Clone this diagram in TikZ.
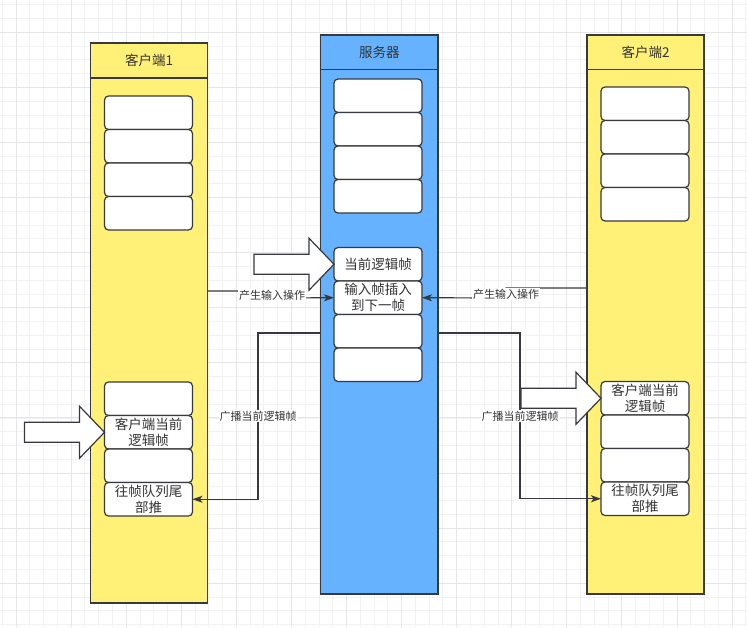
\documentclass[tikz,border=0pt]{standalone}
\usepackage{fontspec}
\newfontfamily\cjk{Noto Sans CJK SC}
\usepackage{tikz}
\usetikzlibrary{positioning, arrows.meta}

\definecolor{laneyellow}{HTML}{FFF077}
\definecolor{laneblue}{HTML}{66B2FF}
\definecolor{edgec}{HTML}{36393D}
\definecolor{textc}{HTML}{333333}
\definecolor{gridminor}{HTML}{F2F2F2}
\definecolor{gridmajor}{HTML}{E6E6E6}

\tikzset{
    lanehead/.style={draw=edgec, line width=1.5pt, minimum width=117pt, minimum height=35pt,
        anchor=north, outer sep=0pt, text=textc, font=\cjk\fontsize{13.5}{16}\selectfont},
    lanebody/.style={draw=edgec, line width=1.5pt, minimum width=117pt, outer sep=0pt},
    frame/.style={draw=edgec, line width=1.2pt, fill=white, rounded corners=4pt,
        minimum width=88pt, minimum height=33.5pt, outer sep=0pt, inner sep=1pt,
        align=center, text=textc, font=\cjk\fontsize{13.5}{16}\selectfont},
    flow/.style={draw=edgec, line width=1.2pt, -{Stealth[length=10pt, width=7pt, inset=2.5pt]}},
    flowlabel/.style={fill=white, inner sep=1pt, text=textc, font=\cjk\fontsize{11}{13}\selectfont},
    bigarr/.style={draw=edgec, line width=1.2pt, fill=white, line join=miter},
}

% hollow block arrow, tip at #1
\newcommand{\blockarrow}[1]{%
    \draw[bigarr] (#1) -- ++(-25,26) -- ++(0,-16) -- ++(-55,0) -- ++(0,-20)
        -- ++(55,0) -- ++(0,-16) -- cycle;}

\begin{document}
\begin{tikzpicture}[x=1pt, y=-1pt]
    \useasboundingbox (0,0) rectangle (747,627);

    % canvas grid
    \foreach \i in {0,...,54}
        \draw[gridminor, line width=0.8pt] ({2.2+13.77*\i},0) -- ({2.2+13.77*\i},627);
    \foreach \i in {0,...,45}
        \draw[gridminor, line width=0.8pt] (0,{4.8+13.77*\i}) -- (747,{4.8+13.77*\i});
    \foreach \i in {0,...,13}
        \draw[gridmajor, line width=0.8pt] ({16+55.08*\i},0) -- ({16+55.08*\i},627);
    \foreach \i in {0,...,10}
        \draw[gridmajor, line width=0.8pt] (0,{32.3+55.08*\i}) -- (747,{32.3+55.08*\i});

    % client 1
    \node[lanehead, fill=laneyellow] (c1head) at (149,43) {客户端1};
    \node[lanebody, fill=laneyellow, minimum height=525pt, below=0pt of c1head] (c1body) {};
    \node[frame, anchor=north] (c1a) at (148.5,96) {};
    \node[frame, below=0pt of c1a] (c1b) {};
    \node[frame, below=0pt of c1b] (c1c) {};
    \node[frame, below=0pt of c1c] (c1d) {};
    \node[frame, anchor=north] (c1e) at (148.5,382) {};
    \node[frame, below=0pt of c1e] (c1f) {客户端当前\\逻辑帧};
    \node[frame, below=0pt of c1f] (c1g) {};
    \node[frame, below=0pt of c1g] (c1h) {往帧队列尾\\部推};

    % server
    \node[lanehead, fill=laneblue, minimum width=117.5pt, minimum height=34.5pt] (shead) at (379.25,35) {服务器};
    \node[lanebody, fill=laneblue, minimum width=117.5pt, minimum height=524.5pt, below=0pt of shead] (sbody) {};
    \node[frame, anchor=north] (sa) at (378,79) {};
    \node[frame, below=0pt of sa] (sb) {};
    \node[frame, below=0pt of sb] (sc) {};
    \node[frame, below=0pt of sc] (sd) {};
    \node[frame, anchor=north] (se) at (378,247.5) {当前逻辑帧};
    \node[frame, below=0pt of se] (sf) {输入帧插入\\到下一帧};
    \node[frame, below=0pt of sf] (sg) {};
    \node[frame, below=0pt of sg] (sh) {};

    % client 2
    \node[lanehead, fill=laneyellow, minimum height=34.5pt] (c2head) at (645.5,35) {客户端2};
    \node[lanebody, fill=laneyellow, minimum height=524.5pt, below=0pt of c2head] (c2body) {};
    \node[frame, anchor=north] (c2a) at (645,87) {};
    \node[frame, below=0pt of c2a] (c2b) {};
    \node[frame, below=0pt of c2b] (c2c) {};
    \node[frame, below=0pt of c2c] (c2d) {};
    \node[frame, anchor=north] (c2e) at (645,381.5) {客户端当前\\逻辑帧};
    \node[frame, below=0pt of c2e] (c2f) {};
    \node[frame, below=0pt of c2f] (c2g) {};
    \node[frame, below=0pt of c2g] (c2h) {往帧队列尾\\部推};

    % input from the clients
    \coordinate (c1out) at (207.5,291);
    \coordinate (c2out) at (587,288);
    \draw[flow] (c1out) -- (272,291) -- (272,298) -- (sf.west);
    \node[flowlabel] (inlabel1) at (272,295) {产生输入操作};
    \draw[flow] (c2out) -- (506,288) -- (506,298) -- (sf.east);
    \node[flowlabel] (inlabel2) at (506,294) {产生输入操作};

    % broadcast to the clients
    \coordinate (sout1) at (320.5,333);
    \coordinate (sout2) at (438,333);
    \draw[flow] (sout1) -- (258,333) |- (c1h.east);
    \node[flowlabel] (bclabel1) at (258,416) {广播当前逻辑帧};
    \draw[flow] (sout2) -- (520,333) |- (c2h.west);
    \node[flowlabel] (bclabel2) at (520,416) {广播当前逻辑帧};

    % current frame markers
    \blockarrow{se.west}
    \blockarrow{c1f.west}
    \blockarrow{c2e.west}
\end{tikzpicture}
\end{document}
